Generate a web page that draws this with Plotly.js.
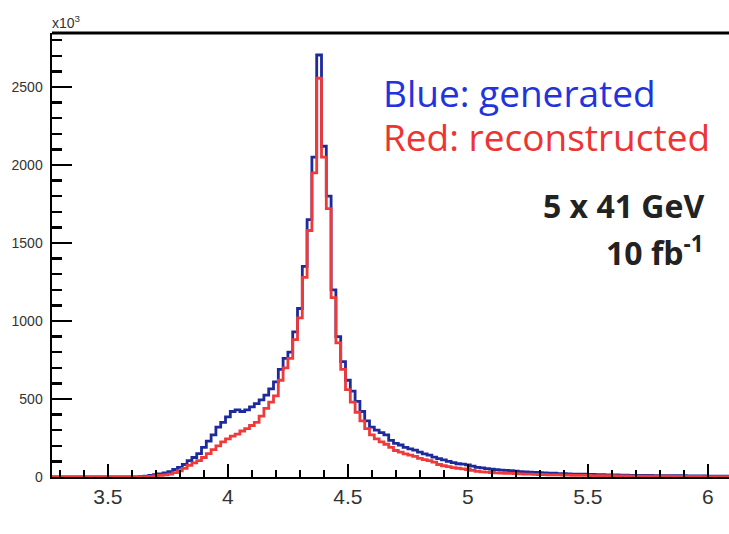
<!DOCTYPE html>
<html>
<head>
<meta charset="utf-8">
<script src="https://cdn.plot.ly/plotly-3.0.1.min.js"></script>
<style>html,body{margin:0;padding:0;background:#fff;}#chart{width:729px;height:534px;}</style>
</head>
<body>
<div id="chart"></div>
<script>
// Histogram binning (left edge of first bin, bin width)
const binStart = 3.25;
const binWidth = 0.02;

// Blue: generated (counts, x10^3), bins from 3.25 upward
const generated = [
  0,0,0,0,0,0,0,0,0,0,0,0,0,0,0,0,0,
  0,0,2,5,10,15,20,27,35,48,
  62,80,105,125,150,190,230,270,320,350,
  385,420,430,420,430,450,470,495,525,565,
  610,690,760,800,930,1080,1350,1650,2050,2705,
  2120,1800,1200,900,740,620,550,485,420,360,
  320,300,285,270,235,215,205,190,180,172,
  160,148,140,128,118,110,100,92,85,82,
  78,70,62,58,54,50,47,44,42,40,
  37,35,32,31,29,28,27,25,24,22,
  21,20,19,19,18,17,16,15,15,14,
  13,13,12,12,11,11,10,10,10,9,
  9,9,8,8,8,8,7,7,7,7,
  6,6,6,6,5,5
];

// Red: reconstructed
const reconstructed = [
  0,0,0,0,0,0,0,0,0,0,0,0,0,0,0,0,0,
  0,0,1,2,4,7,10,14,19,28,
  40,55,75,90,105,125,150,175,200,225,
  245,262,275,295,310,330,350,390,440,480,
  520,620,700,760,880,1020,1280,1580,1950,2556,
  2050,1720,1150,860,690,560,480,415,360,310,
  270,245,225,210,190,170,160,148,140,132,
  120,112,105,95,80,72,66,60,56,52,
  48,42,36,33,31,29,27,25,24,23,
  22,20,19,18,17,16,15,14,14,13,
  12,12,11,11,10,10,9,9,8,8,
  8,7,7,7,6,6,6,6,5,5,
  5,5,5,4,4,4,4,4,4,3,
  3,3,3,3,3,3
];

const xTickVals = [3.5, 4, 4.5, 5, 5.5, 6];
const xTickText = ['3.5', '4', '4.5', '5', '5.5', '6'];
const yTickVals = [0, 500, 1000, 1500, 2000, 2500];
const yTickText = ['0', '500', '1000', '1500', '2000', '2500'];

function stepTrace(vals, color) {
  const x = [], y = [];
  for (let i = 0; i <= vals.length; i++) {
    x.push(+(binStart + i * binWidth).toFixed(4));
    y.push(vals[Math.min(i, vals.length - 1)]);
  }
  return {x: x, y: y, type: 'scatter', mode: 'lines',
    line: {shape: 'hv', color: color, width: 2.8}, hoverinfo: 'skip', cliponaxis: true};
}

const data = [
  stepTrace(generated, '#1c2a9c'),
  stepTrace(reconstructed, '#f03a3a')
];

const layout = {
  width: 729, height: 534,
  margin: {l: 52, r: 0, t: 33, b: 57, pad: 0},
  paper_bgcolor: '#fff', plot_bgcolor: '#fff',
  showlegend: false,
  xaxis: {
    range: [3.267, 6.088], showgrid: false, zeroline: false,
    showline: true, linecolor: '#000', linewidth: 2,
    ticks: 'inside', ticklen: 13, tickwidth: 2, tickcolor: '#000',
    tickvals: xTickVals, ticktext: xTickText,
    minor: {dtick: 0.1, tick0: 3.5, ticks: 'inside', ticklen: 7, tickwidth: 2, tickcolor: '#000'},
    tickfont: {family: 'Liberation Sans, Arial, sans-serif', size: 21, color: '#333'},
    ticklabelstandoff: 0
  },
  yaxis: {
    range: [0, 2846], showgrid: false, zeroline: false,
    showline: true, linecolor: '#000', linewidth: 2.5,
    ticks: 'inside', ticklen: 20, tickwidth: 2.5, tickcolor: '#000',
    tickvals: yTickVals, ticktext: yTickText,
    minor: {dtick: 100, tick0: 0, ticks: 'inside', ticklen: 10, tickwidth: 2.5, tickcolor: '#000'},
    tickfont: {family: 'Liberation Sans, Arial, sans-serif', size: 14, color: '#333'},
    ticklabelstandoff: 4
  },
  shapes: [
    {type: 'line', xref: 'paper', yref: 'paper', x0: 0, x1: 1, y0: 1, y1: 1,
     line: {color: '#000', width: 3}}
  ],
  annotations: [
    {xref: 'paper', yref: 'paper', x: -0.003, y: 1.0, xanchor: 'left', yanchor: 'bottom',
     text: 'x10<sup>3</sup>', showarrow: false,
     font: {family: 'Liberation Sans, Arial, sans-serif', size: 14, color: '#333'}},
    {xref: 'paper', yref: 'paper', x: 0.486, y: 0.865, xanchor: 'left', yanchor: 'middle',
     text: 'Blue: generated', showarrow: false,
     font: {family: 'Open Sans, sans-serif', size: 37, color: '#2233dd'}},
    {xref: 'paper', yref: 'paper', x: 0.486, y: 0.766, xanchor: 'left', yanchor: 'middle',
     text: 'Red: reconstructed', showarrow: false,
     font: {family: 'Open Sans, sans-serif', size: 37, color: '#ee3333'}},
    {xref: 'paper', yref: 'paper', x: 0.966, y: 0.612, xanchor: 'right', yanchor: 'middle',
     text: '<b>5 x 41 GeV</b>', showarrow: false,
     font: {family: 'Open Sans, sans-serif', size: 32, color: '#222'}},
    {xref: 'paper', yref: 'paper', x: 0.966, y: 0.508, xanchor: 'right', yanchor: 'middle',
     text: '<b>10 fb<sup>-1</sup></b>', showarrow: false,
     font: {family: 'Open Sans, sans-serif', size: 32, color: '#222'}}
  ]
};

Plotly.newPlot('chart', data, layout, {staticPlot: true, displayModeBar: false});
</script>
</body>
</html>
